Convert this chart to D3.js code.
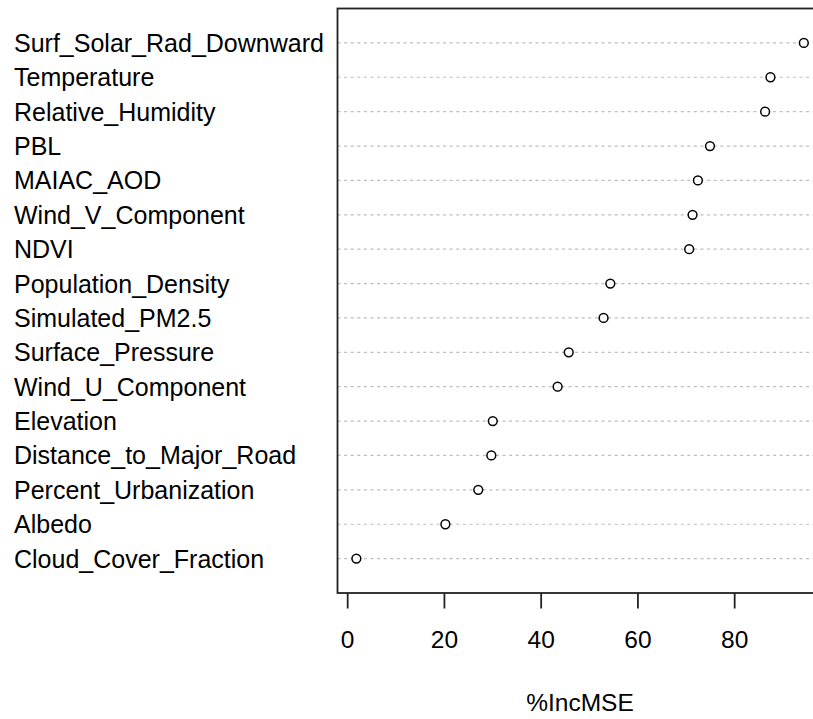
<!DOCTYPE html>
<html>
<head>
<meta charset="utf-8">
<script src="https://cdn.jsdelivr.net/npm/d3@7"></script>
<style>
  html, body { margin: 0; padding: 0; background: #fff; }
  svg { display: block; }
  text { font-family: "Liberation Sans", Arial, sans-serif; fill: #000; }
</style>
</head>
<body>
<div id="chart"></div>
<script>
// Variables, top to bottom as drawn
const categories = [
  "Surf_Solar_Rad_Downward", "Temperature", "Relative_Humidity", "PBL",
  "MAIAC_AOD", "Wind_V_Component", "NDVI", "Population_Density",
  "Simulated_PM2.5", "Surface_Pressure", "Wind_U_Component", "Elevation",
  "Distance_to_Major_Road", "Percent_Urbanization", "Albedo", "Cloud_Cover_Fraction"
];
const values = [
  94.4, 87.5, 86.4, 75.0,
  72.5, 71.4, 70.7, 54.4,
  53.0, 45.8, 43.5, 30.1,
  29.8, 27.1, 20.3, 1.9
];
const xTicks = [0, 20, 40, 60, 80];
const xTitle = "%IncMSE";

(function () {
const W = 813, H = 719;
const pLeft = 337.5, pRight = 822.7, pTop = 8.5, pBottom = 593;
const fs = 24.5, fsLab = 25;

const svg = d3.select("#chart").append("svg")
  .attr("width", W).attr("height", H);

const x = d3.scaleLinear().domain([-2, 98.3]).range([pLeft, pRight]);
const y = d3.scalePoint().domain(categories).range([pTop, pBottom]).padding(1);

const data = categories.map((c, i) => ({ name: c, value: values[i] }));

// dotted guide lines
svg.append("g").selectAll("line").data(data).join("line")
  .attr("x1", pLeft).attr("x2", pRight)
  .attr("y1", d => y(d.name)).attr("y2", d => y(d.name))
  .attr("stroke", "#bdbdbd").attr("stroke-width", 1.2)
  .attr("stroke-dasharray", "3,3.6");

// points
svg.append("g").selectAll("circle").data(data).join("circle")
  .attr("cx", d => x(d.value)).attr("cy", d => y(d.name))
  .attr("r", 4.4)
  .attr("fill", "#fff").attr("stroke", "#000").attr("stroke-width", 1.5);

// frame
svg.append("rect")
  .attr("x", pLeft).attr("y", pTop)
  .attr("width", pRight - pLeft).attr("height", pBottom - pTop)
  .attr("fill", "none").attr("stroke", "#222").attr("stroke-width", 1.8);

// category labels
svg.append("g").selectAll("text").data(data).join("text")
  .attr("x", 14).attr("y", d => y(d.name)).attr("dy", "0.36em")
  .attr("font-size", fsLab).text(d => d.name);

// x axis
const xAxis = d3.axisBottom(x).tickValues(xTicks).tickSize(15.5).tickPadding(22)
  .tickFormat(d3.format("d"));
const gx = svg.append("g").attr("transform", `translate(0,${pBottom})`).call(xAxis);
gx.select(".domain").remove();
gx.selectAll(".tick line").attr("stroke", "#222").attr("stroke-width", 1.8);
gx.selectAll(".tick text").attr("font-size", fs)
  .attr("font-family", "Liberation Sans, Arial, sans-serif").attr("fill", "#000");

// axis title
svg.append("text")
  .attr("x", 580).attr("y", 711)
  .attr("text-anchor", "middle").attr("font-size", fs)
  .text(xTitle);
})();
</script>
</body>
</html>
